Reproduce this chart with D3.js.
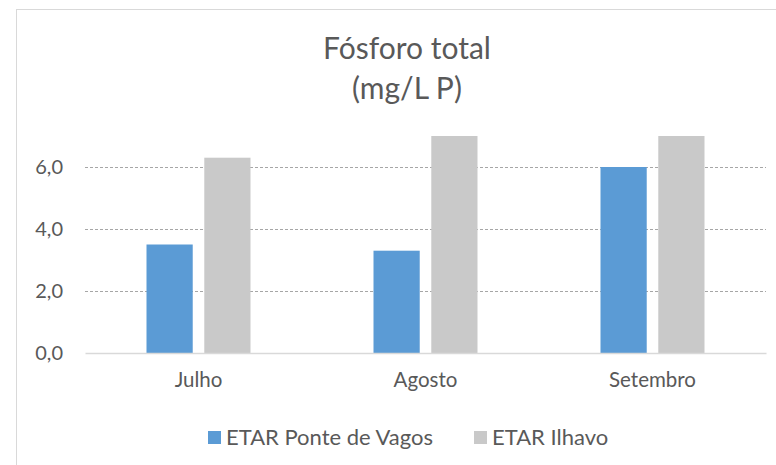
<!DOCTYPE html>
<html>
<head>
<meta charset="utf-8">
<script src="https://cdn.jsdelivr.net/npm/d3@7"></script>
<style>
    body { margin: 0; background: #fff; }
    svg text { font-family: "Lato", "Open Sans", sans-serif; fill: #595959; }
</style>
</head>
<body>
<div id="chart"></div>
<script>
let categories = ['Julho', 'Agosto', 'Setembro'];
let seriesNames = ['ETAR Ponte de Vagos', 'ETAR Ilhavo'];
let pontedeVagos = [3.5, 3.3, 6.0];
let ilhavo = [6.3, 7.0, 7.0];
let yTicks = [0, 2, 4, 6];
let colors = ['#5b9bd5', '#c9c9c9'];

(function () {
    let width = 776, height = 465;
    let svg = d3.select('#chart').append('svg')
        .attr('width', width)
        .attr('height', height);

    // chart border
    svg.append('rect')
        .attr('x', 16.5).attr('y', 9.5)
        .attr('width', 780).attr('height', 480)
        .attr('fill', 'none')
        .attr('stroke', '#d9d9d9');

    let left = 85, right = 766, top = 136, bottom = 353;

    let x = d3.scaleBand().domain(categories).range([left, right]);
    let x1 = d3.scaleBand().domain(seriesNames)
        .range([x.bandwidth() / 2 - 52, x.bandwidth() / 2 + 52])
        .paddingInner(0.2);
    let y = d3.scaleLinear().domain([0, 7]).range([bottom, top]);

    // dashed gridlines
    svg.append('g')
        .selectAll('line')
        .data(yTicks.filter(d => d > 0))
        .enter()
        .append('line')
        .attr('x1', left).attr('x2', right)
        .attr('y1', d => Math.round(y(d)) + 0.5)
        .attr('y2', d => Math.round(y(d)) + 0.5)
        .attr('stroke', '#a6a6a6')
        .attr('stroke-dasharray', '3,2');

    // y labels
    let axisY = d3.axisLeft(y)
        .tickValues(yTicks)
        .tickFormat(d => d3.format('.1f')(d).replace('.', ','))
        .tickSize(0)
        .tickPadding(22);
    let gy = svg.append('g')
        .attr('transform', 'translate(' + left + ',0)')
        .call(axisY);
    gy.select('.domain').remove();
    gy.selectAll('text').attr('font-size', 20).style('fill', '#595959');

    let data = [pontedeVagos, ilhavo];
    seriesNames.forEach(function (name, s) {
        svg.append('g')
            .selectAll('rect')
            .data(data[s])
            .enter()
            .append('rect')
            .attr('x', (d, i) => x(categories[i]) + x1(name))
            .attr('y', d => y(d))
            .attr('width', x1.bandwidth())
            .attr('height', d => bottom - y(d))
            .attr('fill', colors[s]);
    });

    // baseline and category labels
    let axisX = d3.axisBottom(x).tickSize(0).tickPadding(19);
    let gx = svg.append('g')
        .attr('transform', 'translate(0,' + bottom + ')')
        .call(axisX);
    gx.select('.domain').attr('stroke', '#d9d9d9').attr('stroke-width', 1.5);
    gx.selectAll('text').attr('font-size', 20.5).style('fill', '#595959');

    // title
    svg.append('text')
        .attr('x', 407).attr('y', 59)
        .attr('text-anchor', 'middle')
        .attr('font-size', 30)
        .text('Fósforo total');
    svg.append('text')
        .attr('x', 407).attr('y', 99)
        .attr('text-anchor', 'middle')
        .attr('font-size', 30)
        .text('(mg/L P)');

    // legend
    let legendX = [208, 474];
    let lg = svg.append('g');
    seriesNames.forEach(function (name, s) {
        lg.append('rect')
            .attr('x', legendX[s]).attr('y', 431)
            .attr('width', 13).attr('height', 13)
            .attr('fill', colors[s]);
        lg.append('text')
            .attr('x', legendX[s] + 18).attr('y', 445)
            .attr('font-size', 22)
            .text(name);
    });
})();
</script>
</body>
</html>
